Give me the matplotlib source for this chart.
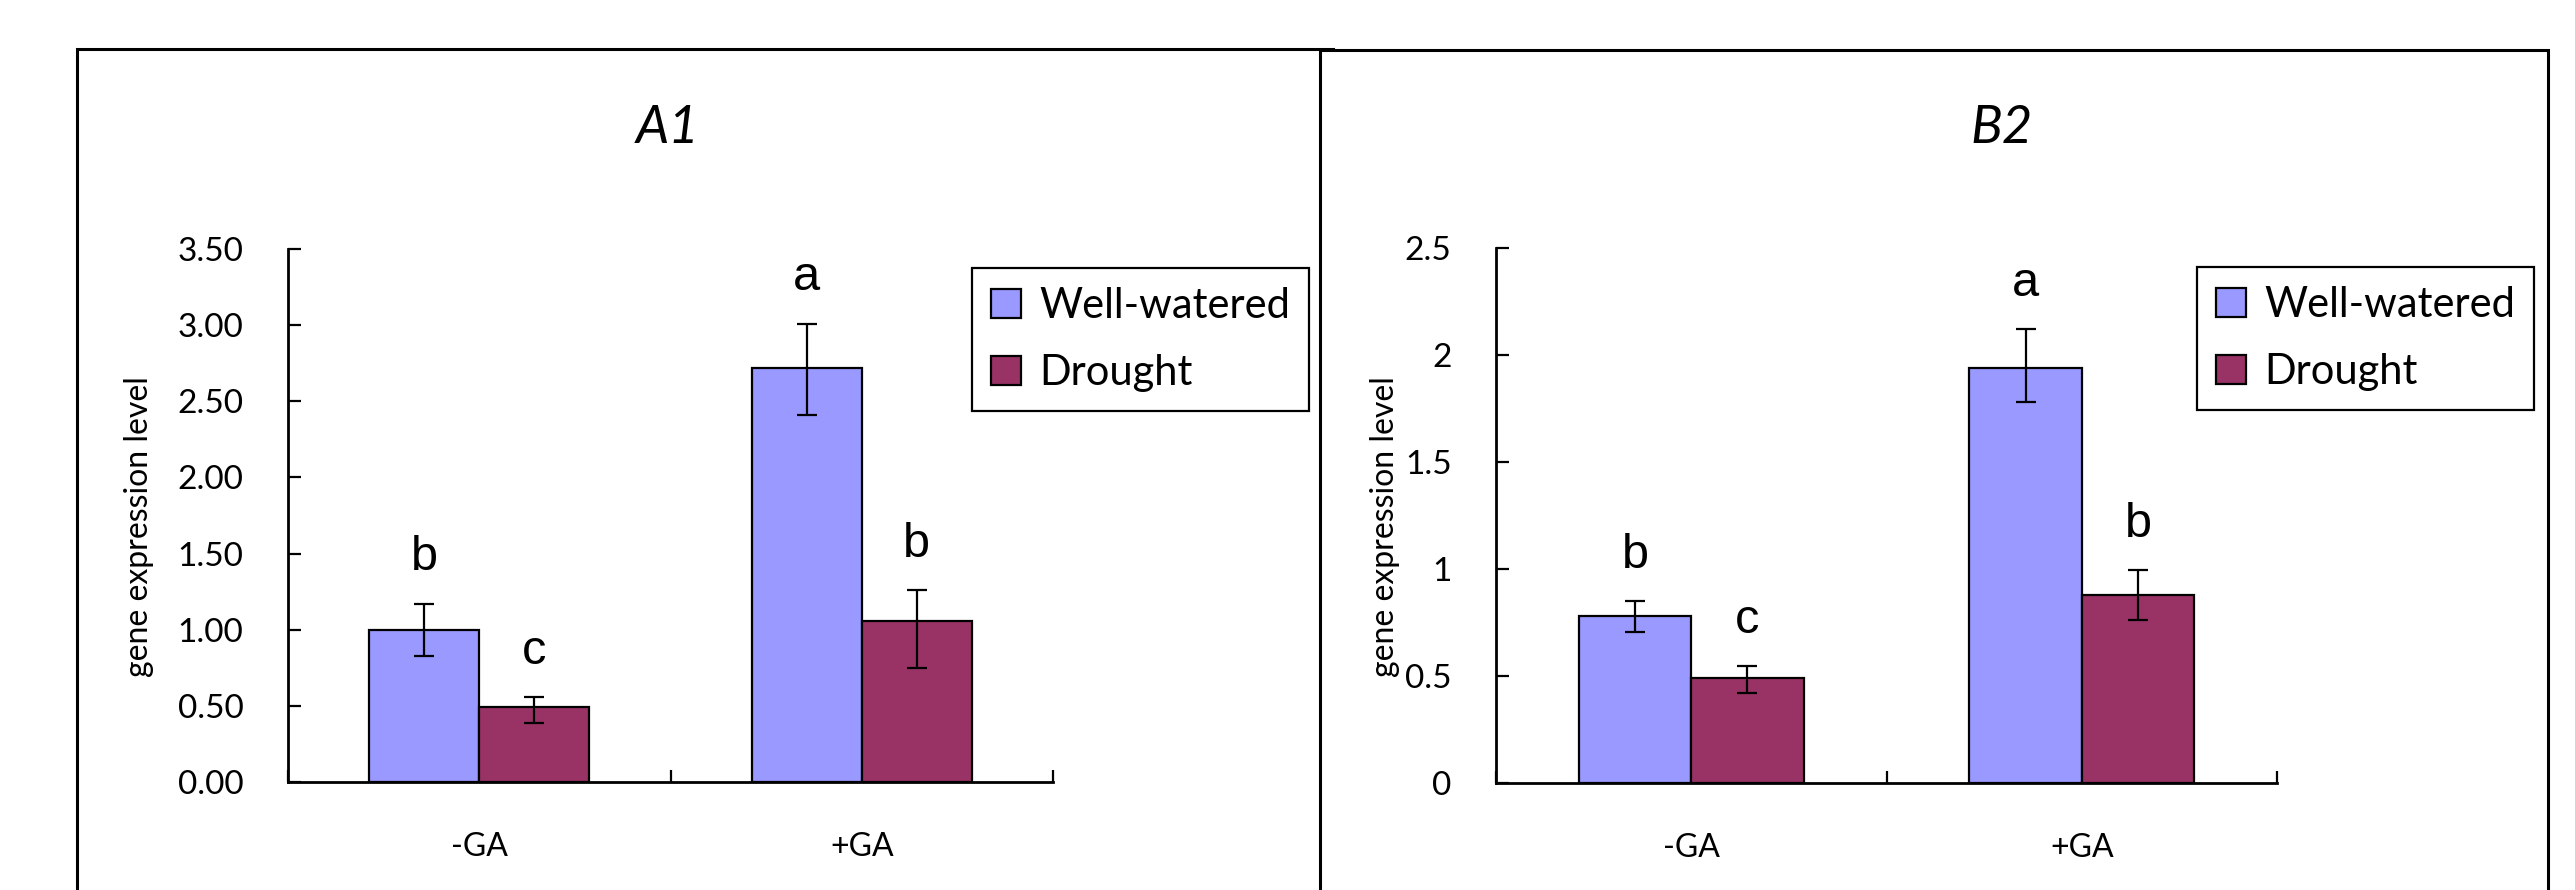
import matplotlib.pyplot as plt
from matplotlib.patches import Rectangle
import numpy as np

# data
treatments = ['-GA', '+GA']
series = ['Well-watered', 'Drought']
colors = ['#9999FF', '#993366']

a1_well = [1.00, 2.72]
a1_well_lo = [0.17, 0.31]
a1_well_hi = [0.17, 0.29]
a1_drought = [0.49, 1.06]
a1_drought_lo = [0.10, 0.31]
a1_drought_hi = [0.066, 0.20]
a1_letters = [['b', 'a'], ['c', 'b']]
a1_yticks = [0, 0.5, 1.0, 1.5, 2.0, 2.5, 3.0, 3.5]

b2_well = [0.78, 1.94]
b2_well_lo = [0.075, 0.16]
b2_well_hi = [0.07, 0.18]
b2_drought = [0.49, 0.88]
b2_drought_lo = [0.07, 0.12]
b2_drought_hi = [0.055, 0.115]
b2_letters = [['b', 'a'], ['c', 'b']]
b2_yticks = [0, 0.5, 1, 1.5, 2, 2.5]

W, H = 2575, 890
ui_font = 'Lato'
letter_font = 'Liberation Sans'


def px_box(x0, y_bottom, w, h):
    # pixel box (y from top) -> figure fraction
    return [x0 / W, (H - y_bottom) / H, w / W, h / H]


def draw_panel(ax, values, lows, highs, letters, yticks, fmt, leg_xy):
    x = np.arange(len(treatments))
    bw = 0.288
    offsets = [-bw / 2, bw / 2]
    for i in range(2):
        bars = ax.bar(x + offsets[i], values[i], bw, color=colors[i],
                      edgecolor='black', linewidth=1.6, label=series[i], zorder=2)
        ax.errorbar(x + offsets[i], values[i], yerr=[lows[i], highs[i]], fmt='none',
                    ecolor='black', elinewidth=1.6, capsize=7.5, capthick=1.6, zorder=3)
        for j, b in enumerate(bars):
            ax.annotate(letters[i][j], xy=(x[j] + offsets[i], values[i][j] + highs[i][j]),
                        xytext=(0, 24), textcoords='offset points', ha='center',
                        va='baseline', fontsize=35, family=letter_font)

    ax.set_xlim(-0.5, 1.5)
    ax.set_ylim(0, yticks[-1])
    ax.set_facecolor('none')
    for s in ['top', 'right']:
        ax.spines[s].set_visible(False)
    for s in ['left', 'bottom']:
        ax.spines[s].set_linewidth(2)

    ax.set_yticks(yticks)
    ax.set_yticklabels([fmt(v) for v in yticks], family=ui_font, fontsize=24)
    ax.tick_params(axis='y', direction='in', length=9, width=1.6, pad=32)

    ax.set_xticks([-0.5, 0.5, 1.5])
    ax.set_xticklabels([])
    ax.set_xticks(x, minor=True)
    ax.set_xticklabels(treatments, minor=True, family=ui_font, fontsize=23)
    ax.tick_params(axis='x', which='major', direction='in', length=9, width=1.6)
    ax.tick_params(axis='x', which='minor', length=0, pad=36)

    ax.set_ylabel('gene expression level', family=ui_font, fontsize=23)

    ax.legend(loc='upper left', bbox_to_anchor=(leg_xy[0] / W, 1 - leg_xy[1] / H),
              bbox_transform=fig.transFigure, borderaxespad=0,
              prop={'family': ui_font, 'size': 30}, frameon=True, fancybox=False,
              edgecolor='black', framealpha=1, handlelength=0.72, handleheight=0.7,
              handletextpad=0.45, borderpad=0.45, labelspacing=0.7)
    ax.get_legend().get_frame().set_linewidth(1.6)


fig = plt.figure(figsize=(W / 100, H / 100), dpi=100)

# panel frames (bottom runs off the canvas)
fig.patches.append(Rectangle((77 / W, -0.1), (1333 - 77) / W, 1.1 - 49 / H,
                             transform=fig.transFigure, facecolor='white',
                             edgecolor='black', linewidth=2.2, zorder=-2))
fig.patches.append(Rectangle((1320 / W, -0.1), (2548 - 1320) / W, 1.1 - 50 / H,
                             transform=fig.transFigure, facecolor='white',
                             edgecolor='black', linewidth=2.2, zorder=-1))

ax1 = fig.add_axes(px_box(288, 782, 765, 533))
draw_panel(ax1, [a1_well, a1_drought], [a1_well_lo, a1_drought_lo],
           [a1_well_hi, a1_drought_hi], a1_letters, a1_yticks,
           lambda v: f'{v:.2f}', (972, 268))
ax1.yaxis.set_label_coords((139 - 288) / 765, 0.48)

ax2 = fig.add_axes(px_box(1496, 783, 781, 535))
draw_panel(ax2, [b2_well, b2_drought], [b2_well_lo, b2_drought_lo],
           [b2_well_hi, b2_drought_hi], b2_letters, b2_yticks,
           lambda v: f'{v:g}', (2197, 267))
ax2.yaxis.set_label_coords((1385 - 1496) / 781, 0.48)
for ax in (ax1, ax2):
    ax.yaxis.label.set_va('center')

fig.text(668 / W, 1 - 128 / H, 'A1', ha='center', va='center', fontsize=38,
         style='italic', family=ui_font)
fig.text(2002 / W, 1 - 128 / H, 'B2', ha='center', va='center', fontsize=38,
         style='italic', family=ui_font)

fig.savefig('out.png', dpi=100)
